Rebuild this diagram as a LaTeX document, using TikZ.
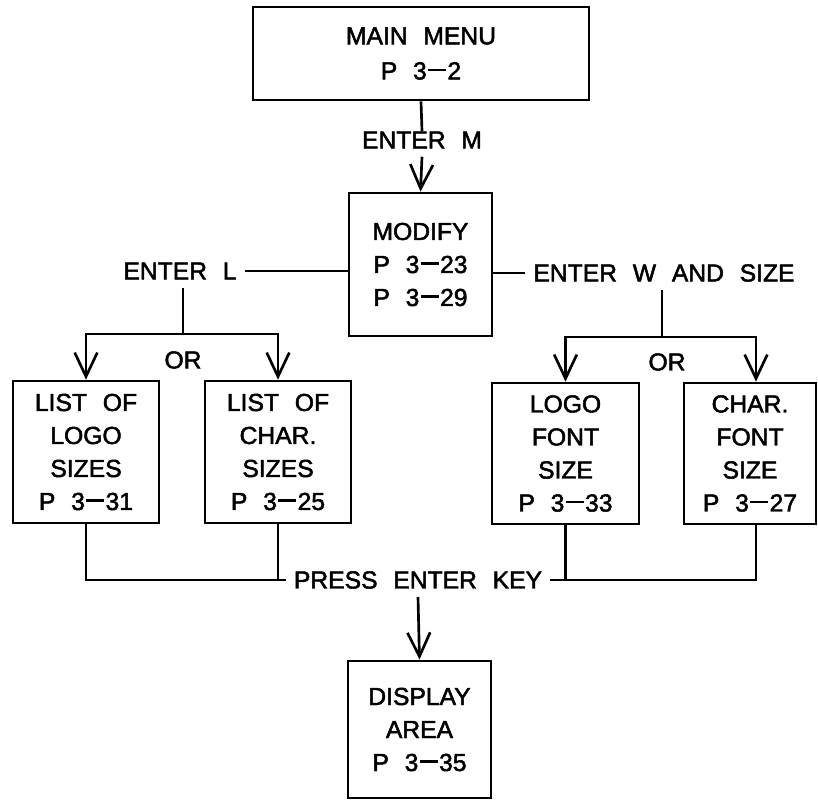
\documentclass[tikz,border=0pt]{standalone}
\usepackage{fontspec}
\setmainfont{Liberation Sans}[WordSpace=2.3,FakeBold=2]
\usetikzlibrary{arrows.meta}
\newcommand{\dsh}{\kern0.06em\rule[0.33em]{0.72em}{1.9pt}\kern0.06em}
\begin{document}
\begin{tikzpicture}[x=0.75pt,y=-0.75pt,
  every node/.style={font=\fontsize{18.5pt}{24.75pt}\selectfont},
  box/.style={draw,line width=2pt,align=center,inner sep=0pt},
  lbl/.style={inner sep=6pt},
  ln/.style={line width=2pt},
  arr/.style={line width=2pt,-{Straight Barb[length=18pt,width=17pt]}}]
\useasboundingbox (0,0) rectangle (818,800);
% boxes
\node[box,minimum width=252pt,minimum height=69.75pt] (main) at (421,53.5) {MAIN MENU\\[1.5pt]P 3\dsh2};
\node[box,minimum width=107.25pt,minimum height=107.25pt] (mod) at (420.5,264.5) {MODIFY\\P 3\dsh23\\P 3\dsh29};
\node[box,minimum width=109.5pt,minimum height=106.5pt] (b1) at (86,452) {LIST OF\\LOGO\\SIZES\\P 3\dsh31};
\node[box,minimum width=109.5pt,minimum height=106.5pt] (b2) at (278,452) {LIST OF\\CHAR.\\SIZES\\P 3\dsh25};
\node[box,minimum width=110.25pt,minimum height=105.75pt] (b3) at (565.5,453.5) {LOGO\\FONT\\SIZE\\P 3\dsh33};
\node[box,minimum width=99pt,minimum height=105.75pt] (b4) at (750,453.5) {CHAR.\\FONT\\SIZE\\P 3\dsh27};
\node[box,minimum width=107.25pt,minimum height=102.75pt] (disp) at (419.5,729.5) {DISPLAY\\AREA\\P 3\dsh35};
% labels
\node[lbl] (lblM) at (422,140) {ENTER M};
\node[lbl] (lblL) at (180,271) {ENTER L};
\node[lbl] (lblW) at (664,273) {ENTER W AND SIZE};
\node (orL) at (183,360) {OR};
\node (orR) at (667,362) {OR};
\node[lbl] (lblP) at (418,580) {PRESS ENTER KEY};
% connectors
\draw[ln] (main.south) -- ([yshift=-6pt]lblM.north);
\draw[arr] (lblM.south) -- (mod.north);
\draw[ln] (lblL.east) -- (lblL.east -| mod.west);
\draw[ln] (mod.east |- lblW.west) -- (lblW.west);
\coordinate (jL) at (183,334);
\draw[ln] (lblL.south -| jL) -- (jL);
\draw[arr] (jL) -| (b1.north);
\draw[arr] (jL) -| (b2.north);
\coordinate (jR) at (662,337);
\draw[ln] (lblW.south -| jR) -- (jR);
\draw[arr] (jR) -| (b3.north);
\draw[arr] (jR) -| ([xshift=4.5pt]b4.north);
\draw[ln] (b1.south) |- (lblP.west);
\draw[ln] (b2.south) -- (b2.south |- lblP.west);
\draw[ln] ([xshift=4.5pt]b4.south) |- (lblP.east);
\draw[ln] (b3.south) -- (b3.south |- lblP.east);
\draw[arr] (lblP.south) -- (disp.north);
\end{tikzpicture}
\end{document}
